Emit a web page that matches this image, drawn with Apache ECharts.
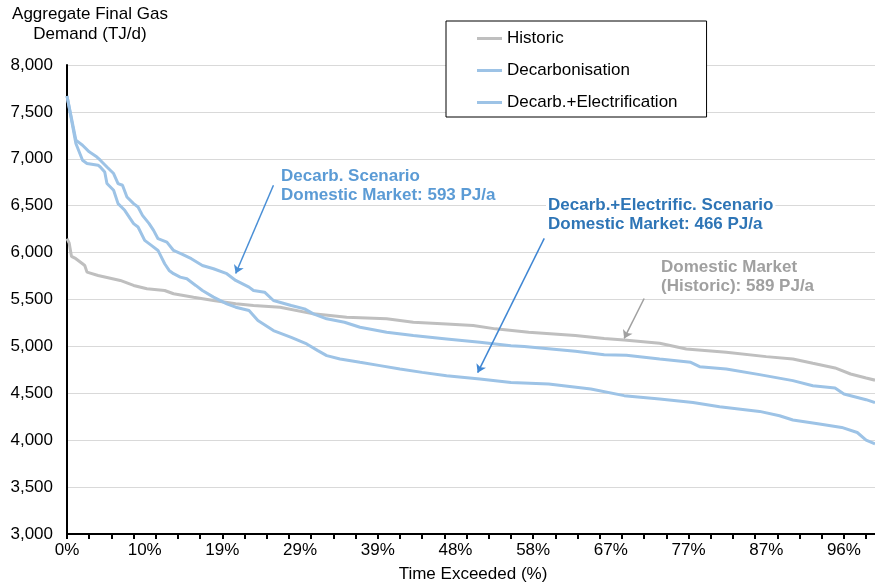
<!DOCTYPE html>
<html>
<head>
<meta charset="utf-8">
<script src="https://cdn.jsdelivr.net/npm/echarts@6/dist/echarts.min.js"></script>
<style>
html,body{margin:0;padding:0;background:#fff;}
#chart{width:875px;height:588px;}
</style>
</head>
<body>
<div id="chart"></div>
<script>
// ---- data ----
// x categories: day rank 1..365 (time exceeded)
const days = Array.from({length: 365}, (_, i) => i + 1);
const tickLabels = ['0%','10%','19%','29%','39%','48%','58%','67%','77%','87%','96%'];
const yTicks = [3000, 8000, 500];

const historicIdx = [0,1,2,4,7,8,9,14,24,30,36,44,48,57,66,76,84,96,111,126,144,156,171,183,193,208,229,242,251,267,279,297,315,327,336,346,353,360,364];
const historicVal = [6150,6100,5960,5935,5881,5863,5792,5756,5703,5650,5614,5596,5561,5525,5490,5454,5436,5418,5347,5311,5294,5258,5240,5222,5187,5151,5115,5085,5069,5033,4973,4937,4891,4866,4820,4770,4706,4663,4640];

const decarbIdx = [0,4,7,10,13,15,18,21,23,25,27,30,32,34,37,39,41,45,48,52,56,61,66,72,76,82,84,89,93,101,107,111,117,125,132,144,156,171,186,200,206,229,242,252,267,281,285,297,312,327,336,346,350,360,364];
const decarbVal = [7670,7199,7145,7074,7028,6985,6913,6843,6736,6718,6593,6522,6486,6397,6309,6237,6148,6112,6023,5981,5935,5863,5828,5775,5703,5632,5596,5578,5489,5436,5400,5347,5294,5258,5204,5151,5115,5080,5044,5008,4998,4948,4912,4905,4866,4830,4784,4760,4699,4635,4581,4557,4492,4432,4400];

const elecIdx = [0,4,7,9,14,15,17,18,21,23,26,30,32,35,38,41,44,46,48,51,54,58,61,66,72,76,82,84,86,93,101,108,113,117,123,132,141,150,160,171,186,200,217,236,251,267,282,294,312,321,327,339,349,356,360,364];
const elecVal = [7670,7163,6985,6950,6932,6913,6860,6736,6664,6522,6451,6309,6273,6130,6077,6023,5881,5810,5775,5739,5721,5650,5596,5525,5454,5418,5382,5329,5276,5169,5097,5026,4955,4902,4866,4830,4795,4759,4723,4688,4652,4616,4599,4546,4475,4439,4403,4357,4307,4261,4215,4172,4136,4082,4001,3960];

const seriesNames = ['Historic', 'Decarbonisation', 'Decarb.+Electrification'];

function pairs(idx, val) { return idx.map((d, k) => [d, val[k]]); }

const FONT = "'Liberation Sans', Arial, sans-serif";
const chart = echarts.init(document.getElementById('chart'), null, {renderer: 'canvas'});

const arrowCommon = {
  silent: true,
  symbol: ['none', 'arrow'],
  symbolSize: 8,
  label: {show: false},
  emphasis: {disabled: true},
  animation: false
};

chart.setOption({
  animation: false,
  backgroundColor: '#ffffff',
  textStyle: {fontFamily: FONT},
  grid: {left: 67, top: 65, bottom: 54, right: -9, containLabel: false},
  legend: {
    left: 446, top: 21,
    orient: 'vertical',
    data: seriesNames,
    icon: 'rect',
    itemWidth: 25, itemHeight: 3,
    itemGap: 15,
    padding: [9, 29, 6, 31],
    borderColor: '#000', borderWidth: 1,
    backgroundColor: '#fff',
    selectedMode: false,
    textStyle: {fontFamily: FONT, fontSize: 17, color: '#000', lineHeight: 17}
  },
  xAxis: {
    type: 'category',
    data: days,
    boundaryGap: false,
    axisLine: {show: true, lineStyle: {color: '#000', width: 2}},
    axisTick: {show: true, interval: 9, length: 5, inside: false, lineStyle: {color: '#000', width: 2}},
    axisLabel: {
      interval: 34, margin: 8, fontSize: 17, color: '#000', fontFamily: FONT,
      formatter: (v, i) => (i % 35 === 0 && tickLabels[i / 35] !== undefined) ? tickLabels[i / 35] : ''
    },
    splitLine: {show: false}
  },
  yAxis: {
    type: 'value',
    min: yTicks[0], max: yTicks[1], interval: yTicks[2],
    axisLine: {show: true, lineStyle: {color: '#000', width: 2}},
    axisTick: {show: false},
    axisLabel: {margin: 14, fontSize: 17, color: '#000', fontFamily: FONT,
      formatter: v => v.toLocaleString('en-US')},
    splitLine: {show: true, lineStyle: {color: '#d9d9d9', width: 1}}
  },
  series: [
    {
      name: seriesNames[0], type: 'line', data: pairs(historicIdx, historicVal),
      symbol: 'none', color: '#bfbfbf', lineStyle: {color: '#bfbfbf', width: 3}, z: 2,
      markLine: Object.assign({}, arrowCommon, {
        lineStyle: {color: '#a0a0a0', width: 1.5, type: 'solid'},
        data: [[{coord: [260, 5511]}, {coord: [251, 5085]}]]
      })
    },
    {
      name: seriesNames[1], type: 'line', data: pairs(decarbIdx, decarbVal),
      symbol: 'none', color: '#9dc3e6', lineStyle: {color: '#9dc3e6', width: 3}, z: 3,
      markLine: Object.assign({}, arrowCommon, {
        lineStyle: {color: '#4a8fd6', width: 1.5, type: 'solid'},
        data: [[{coord: [93, 6718]}, {coord: [76, 5778]}]]
      })
    },
    {
      name: seriesNames[2], type: 'line', data: pairs(elecIdx, elecVal),
      symbol: 'none', color: '#9dc3e6', lineStyle: {color: '#9dc3e6', width: 3}, z: 3,
      markLine: Object.assign({}, arrowCommon, {
        lineStyle: {color: '#3f86d3', width: 1.5, type: 'solid'},
        data: [[{coord: [215, 6152]}, {coord: [185, 4720]}]]
      })
    }
  ],
  graphic: [
    {type: 'text', x: 90, y: 4, style: {
      text: 'Aggregate Final Gas\nDemand (TJ/d)', textAlign: 'center', textVerticalAlign: 'top',
      font: '17px ' + FONT, fill: '#000', lineHeight: 20}},
    {type: 'text', x: 473, y: 566, style: {
      text: 'Time Exceeded (%)', textAlign: 'center', textVerticalAlign: 'top',
      font: '17px ' + FONT, fill: '#000'}},
    {type: 'text', x: 279, y: 167, z: 10, style: {
      text: 'Decarb. Scenario\nDomestic Market: 593 PJ/a', textVerticalAlign: 'top',
      font: 'bold 17px ' + FONT, fill: '#5b9bd5', lineHeight: 19,
      backgroundColor: '#fff', padding: [0, 2, 0, 2]}},
    {type: 'text', x: 546, y: 196, z: 10, style: {
      text: 'Decarb.+Electrific. Scenario\nDomestic Market: 466 PJ/a', textVerticalAlign: 'top',
      font: 'bold 17px ' + FONT, fill: '#2e75b6', lineHeight: 19,
      backgroundColor: '#fff', padding: [0, 2, 0, 2]}},
    {type: 'text', x: 659, y: 258, z: 10, style: {
      text: 'Domestic Market\n(Historic): 589 PJ/a', textVerticalAlign: 'top',
      font: 'bold 17px ' + FONT, fill: '#a0a0a0', lineHeight: 19,
      backgroundColor: '#fff', padding: [0, 2, 0, 2]}}
  ]
});
</script>
</body>
</html>
